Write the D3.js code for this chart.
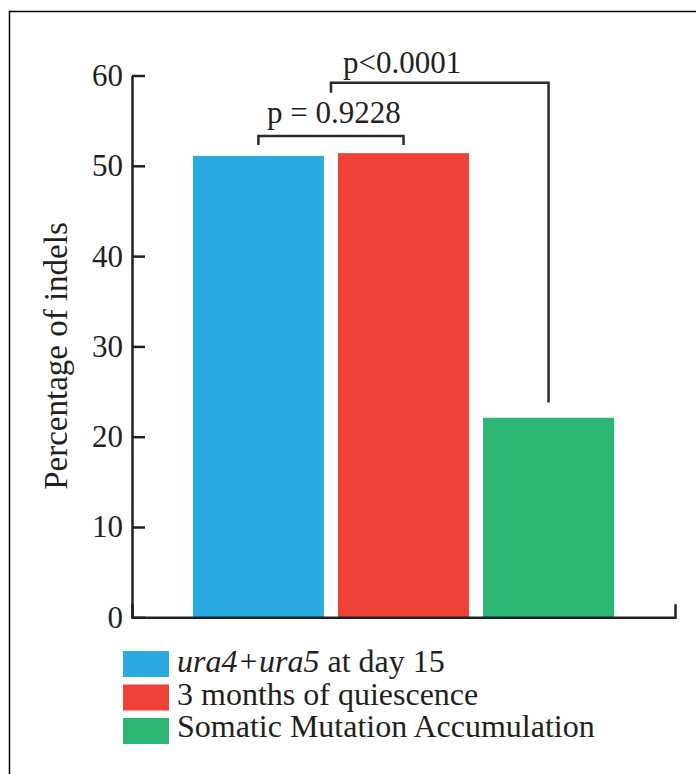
<!DOCTYPE html>
<html>
<head>
<meta charset="utf-8">
<script src="https://cdn.jsdelivr.net/npm/d3@7"></script>
<style>
  body { margin: 0; background: #fff; }
  svg { display: block; font-family: "Liberation Serif", "Times New Roman", serif; }
  .axis path, .axis line { stroke: #231f20; stroke-width: 2.5; }
  .axis text { font-family: "Liberation Serif", serif; font-size: 31px; fill: #231f20; }
</style>
</head>
<body>
<script>
/** chart data */
const groups = ["ura4+ura5 at day 15", "3 months of quiescence", "Somatic Mutation Accumulation"];
const indelPct = [51.1, 51.4, 22.1];
const colors = ["#29abe2", "#ef4136", "#2bb673"];
const yTicks = [0, 10, 20, 30, 40, 50, 60];
const pLabels = ["p = 0.9228", "p<0.0001"];
const bracketTop = [53.3, 59.2];    // level of the horizontal part, in %
const bracketLeftEnd = [52.3, 58.1];
const bracketRightEnd = [52.3, 23.8];

const width = 696;
const height = 774;
const ink = "#231f20";

const svg = d3.select("body").append("svg")
    .attr("width", width)
    .attr("height", height);

// frame (only left and top edges are inside the picture)
svg.append("rect")
    .attr("x", 9.5).attr("y", 11.5)
    .attr("width", 800).attr("height", 900)
    .attr("fill", "none")
    .attr("stroke", "#000")
    .attr("stroke-width", 1.5);

const x = d3.scaleBand()
    .domain(groups)
    .range([132, 675])
    .paddingInner(0.097)
    .paddingOuter(0.42);

const y = d3.scaleLinear()
    .domain([0, 60])
    .range([617.3, 75.5]);

// bars
svg.selectAll("rect.bar")
    .data(groups)
    .enter()
    .append("rect")
    .attr("class", "bar")
    .attr("x", d => x(d))
    .attr("y", (d, i) => y(indelPct[i]))
    .attr("width", x.bandwidth())
    .attr("height", (d, i) => y(0) - y(indelPct[i]))
    .attr("fill", (d, i) => colors[i]);

// y axis, ticks pointing into the plot
const yAxis = d3.axisLeft(y)
    .tickValues(yTicks)
    .tickFormat(d3.format("d"))
    .tickSizeInner(-13)
    .tickSizeOuter(0)
    .tickPadding(9);
svg.append("g")
    .attr("class", "axis")
    .attr("transform", "translate(132,0)")
    .call(yAxis);

// x axis: plain line with a small upturned end
const xAxis = d3.axisBottom(x)
    .tickValues([])
    .tickSizeOuter(-13);
svg.append("g")
    .attr("class", "axis")
    .attr("transform", "translate(0," + y(0) + ")")
    .call(xAxis)
    .select(".domain")
    .attr("fill", "none");

svg.append("text")
    .attr("transform", "translate(67,356) rotate(-90)")
    .attr("text-anchor", "middle")
    .attr("font-size", 33)
    .attr("fill", ink)
    .text("Percentage of indels");

// significance brackets
const center = i => x(groups[i]) + x.bandwidth() / 2;
const bracketX = [
    [center(0), center(1)],
    [(center(0) + center(1)) / 2, center(2)]
];

bracketX.forEach((b, i) => {
    const path = d3.path();
    path.moveTo(b[0], y(bracketLeftEnd[i]));
    path.lineTo(b[0], y(bracketTop[i]));
    path.lineTo(b[1], y(bracketTop[i]));
    path.lineTo(b[1], y(bracketRightEnd[i]));
    svg.append("path")
        .attr("d", path.toString())
        .attr("fill", "none")
        .attr("stroke", "#2b2b2b")
        .attr("stroke-width", 2.5);
});

svg.append("text")
    .attr("x", (bracketX[0][0] + bracketX[0][1]) / 2 + 3)
    .attr("y", y(bracketTop[0]) - 13)
    .attr("text-anchor", "middle")
    .attr("font-size", 31)
    .attr("fill", ink)
    .text(pLabels[0]);

svg.append("text")
    .attr("x", bracketX[1][0] + 12)
    .attr("y", y(bracketTop[1]) - 10)
    .attr("font-size", 31)
    .attr("fill", ink)
    .text(pLabels[1]);

// legend
const legend = svg.append("g").attr("transform", "translate(123,651)");
groups.forEach((g, i) => {
    legend.append("rect")
        .attr("x", 0)
        .attr("y", i * 33.5)
        .attr("width", 46)
        .attr("height", 26)
        .attr("fill", colors[i]);
    const t = legend.append("text")
        .attr("x", 54)
        .attr("y", 21 + i * 32.5)
        .attr("font-size", 32)
        .attr("fill", ink);
    if (i === 0) {
        // gene names in italics
        const parts = g.split(" at ");
        t.append("tspan").attr("font-style", "italic").text(parts[0]);
        t.append("tspan").text(" at " + parts[1]);
    } else {
        t.text(g);
    }
});
</script>
</body>
</html>
